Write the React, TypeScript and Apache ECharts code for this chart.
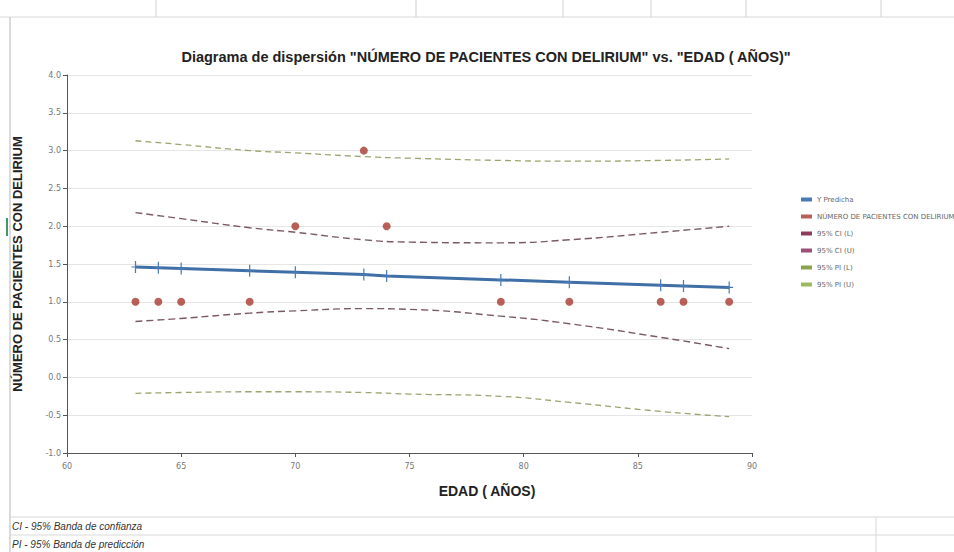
import React, { useEffect, useRef } from "react";
import * as echarts from "echarts";

const ages = [63, 64, 65, 68, 70, 73, 74, 79, 82, 86, 87, 89];
const patients = [1, 1, 1, 1, 2, 3, 2, 1, 1, 1, 1, 1];
const predicted = [1.46, 1.45, 1.44, 1.41, 1.39, 1.36, 1.34, 1.29, 1.26, 1.22, 1.21, 1.19];
const bandX = [63, 65, 68, 70, 73, 75, 79, 82, 86, 89];
const ciLower = [0.74, 0.78, 0.85, 0.88, 0.91, 0.9, 0.81, 0.71, 0.53, 0.38];
const ciUpper = [2.18, 2.1, 1.98, 1.92, 1.82, 1.79, 1.78, 1.82, 1.92, 2.0];
const piLower = [-0.21, -0.2, -0.19, -0.19, -0.2, -0.22, -0.25, -0.33, -0.45, -0.52];
const piUpper = [3.13, 3.08, 3.0, 2.97, 2.92, 2.9, 2.87, 2.86, 2.87, 2.89];
const yTicks = { min: -1, max: 4, interval: 0.5 };
const xTicks = { min: 60, max: 90, interval: 5 };

const pair = (xs: number[], ys: number[]) => xs.map((x, i) => [x, ys[i]]);

const plusSymbol = "path://M-0.6,-6H0.6V-0.6H4V0.6H0.6V6H-0.6V0.6H-4V-0.6H-0.6Z";

export default function App() {
  const ref = useRef<HTMLDivElement>(null);
  useEffect(() => {
    if (!ref.current) return;
    const chart = echarts.init(ref.current, null, { renderer: "svg" });
    const tickFont = { fontFamily: "DejaVu Sans", fontSize: 8, color: "#777" };
    chart.setOption({
      animation: false,
      backgroundColor: "#fff",
      title: {
        text: 'Diagrama de dispersión "NÚMERO DE PACIENTES CON DELIRIUM" vs. "EDAD ( AÑOS)"',
        left: 481,
        textAlign: "center",
        top: 44,
        textStyle: { fontFamily: "Liberation Sans", fontSize: 14.5, fontWeight: "bold", color: "#222" },
      },
      grid: { left: 67, right: 202, top: 75, bottom: 99 },
      legend: {
        orient: "vertical",
        left: 796,
        top: 191,
        itemWidth: 11,
        itemHeight: 4,
        itemGap: 10,
        icon: "rect",
        textStyle: { fontFamily: "DejaVu Sans", fontSize: 7, color: "#666" },
        data: ["Y Predicha", "NÚMERO DE PACIENTES CON DELIRIUM", "95% CI (L)", "95% CI (U)", "95% PI (L)", "95% PI (U)"],
      },
      xAxis: {
        type: "value",
        min: xTicks.min,
        max: xTicks.max,
        interval: xTicks.interval,
        axisLine: { show: true, onZero: false, lineStyle: { color: "#555", width: 1 } },
        axisTick: { show: true, length: 4, lineStyle: { color: "#555" } },
        axisLabel: { ...tickFont, margin: 9 },
        splitLine: { show: false },
      },
      yAxis: {
        type: "value",
        min: yTicks.min,
        max: yTicks.max,
        interval: yTicks.interval,
        name: "NÚMERO DE PACIENTES CON DELIRIUM",
        nameLocation: "middle",
        nameGap: 43,
        nameTextStyle: { fontFamily: "Liberation Sans", fontSize: 13, fontWeight: "bold", color: "#222" },
        axisLine: { show: true, onZero: false, lineStyle: { color: "#555", width: 1 } },
        axisTick: { show: true, length: 4, lineStyle: { color: "#555" } },
        axisLabel: { ...tickFont, margin: 6, formatter: (v: number) => v.toFixed(1) },
        splitLine: { show: true, lineStyle: { color: "#e6e6e6", width: 1 } },
      },
      series: [
        {
          name: "Y Predicha",
          type: "line",
          data: pair(ages, predicted),
          color: "#3f6fa6",
          lineStyle: { width: 3, color: "#3f6fa6" },
          symbol: plusSymbol,
          symbolSize: [8, 12],
          showAllSymbol: true,
          itemStyle: { color: "#4a7ab5" },
          z: 3,
        },
        {
          name: "NÚMERO DE PACIENTES CON DELIRIUM",
          type: "scatter",
          data: pair(ages, patients),
          color: "#c0504d",
          symbolSize: 8,
          itemStyle: { color: "#a8392f" },
          z: 4,
        },
        {
          name: "95% CI (L)",
          type: "line",
          smooth: true,
          data: pair(bandX, ciLower),
          color: "#8e3b5e",
          symbol: "none",
          lineStyle: { type: [7, 4], width: 1.4, color: "#7a5a62" },
        },
        {
          name: "95% CI (U)",
          type: "line",
          smooth: true,
          data: pair(bandX, ciUpper),
          color: "#9d4f78",
          symbol: "none",
          lineStyle: { type: [7, 4], width: 1.4, color: "#7a5a62" },
        },
        {
          name: "95% PI (L)",
          type: "line",
          smooth: true,
          data: pair(bandX, piLower),
          color: "#8aa54a",
          symbol: "none",
          lineStyle: { type: [6, 4], width: 1.3, color: "#9aa570" },
        },
        {
          name: "95% PI (U)",
          type: "line",
          smooth: true,
          data: pair(bandX, piUpper),
          color: "#9dbb5c",
          symbol: "none",
          lineStyle: { type: [6, 4], width: 1.3, color: "#9aa570" },
        },
      ],
      graphic: [
        { type: "line", shape: { x1: 0, y1: 17, x2: 954, y2: 17 }, style: { stroke: "#d8d8d8", lineWidth: 1 }, silent: true },
        ...[156, 416, 563, 651, 746, 881].map((x) => ({
          type: "line",
          shape: { x1: x, y1: 0, x2: x, y2: 17 },
          style: { stroke: "#d0d0d0", lineWidth: 1 },
          silent: true,
        })),
        { type: "line", shape: { x1: 10, y1: 17, x2: 10, y2: 552 }, style: { stroke: "#cfcfcf", lineWidth: 1.5 }, silent: true },
        { type: "rect", shape: { x: 6, y: 218, width: 2, height: 18 }, style: { fill: "#3f9a6a" }, silent: true },
        {
          type: "text",
          x: 487,
          y: 484,
          style: { text: "EDAD ( AÑOS)", align: "center", fontFamily: "Liberation Sans", fontWeight: "bold", fontSize: 14, fill: "#222" },
          silent: true,
        },
        { type: "line", shape: { x1: 10, y1: 517, x2: 954, y2: 517 }, style: { stroke: "#d8d8d8", lineWidth: 1 }, silent: true },
        { type: "line", shape: { x1: 10, y1: 535, x2: 954, y2: 535 }, style: { stroke: "#d8d8d8", lineWidth: 1 }, silent: true },
        { type: "line", shape: { x1: 876, y1: 517, x2: 876, y2: 552 }, style: { stroke: "#d8d8d8", lineWidth: 1 }, silent: true },
        {
          type: "text",
          x: 12,
          y: 521,
          style: { text: "CI - 95% Banda de confianza", fontFamily: "Liberation Sans", fontStyle: "italic", fontSize: 10, fill: "#333" },
          silent: true,
        },
        {
          type: "text",
          x: 12,
          y: 539,
          style: { text: "PI - 95% Banda de predicción", fontFamily: "Liberation Sans", fontStyle: "italic", fontSize: 10, fill: "#333" },
          silent: true,
        },
      ],
    });
    return () => chart.dispose();
  }, []);
  return <div ref={ref} style={{ position: "fixed", left: 0, top: 0, width: 954, height: 552 }} />;
}
